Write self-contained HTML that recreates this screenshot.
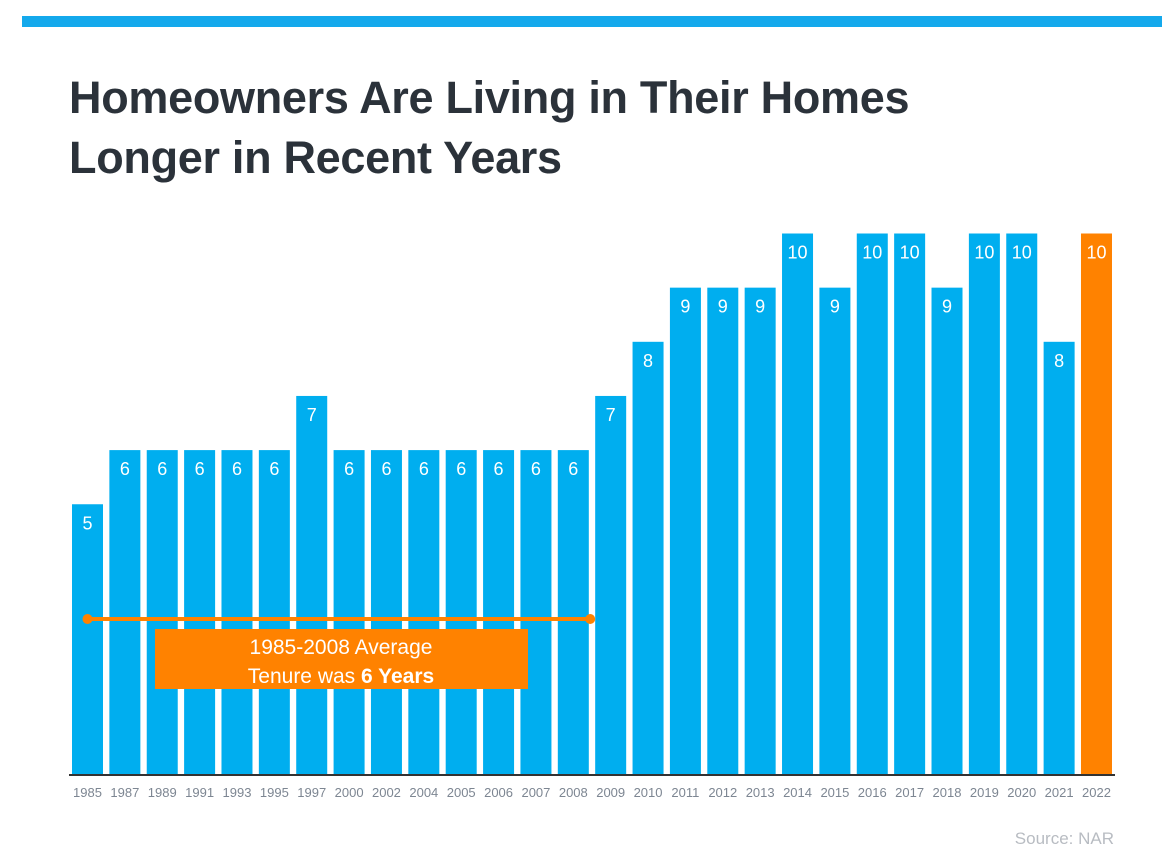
<!DOCTYPE html>
<html><head><meta charset="utf-8"><style>
body{margin:0;background:#fff;font-family:"Liberation Sans",sans-serif;}
#wrap{position:relative;width:1175px;height:856px;overflow:hidden;}
#topbar{position:absolute;left:22px;top:16px;width:1140px;height:11px;background:#14a9ec;}
#title{position:absolute;left:69px;top:68px;font-size:45px;font-weight:bold;color:#2b323a;line-height:60px;margin:0;letter-spacing:-0.3px;}
#source{position:absolute;right:61px;top:829px;font-size:17px;color:#b8bcc2;}
</style></head><body>
<div id="wrap">
<div id="topbar"></div>
<h1 id="title">Homeowners Are Living in Their Homes<br>Longer in Recent Years</h1>
<svg id="chart" width="1175" height="856" style="position:absolute;left:0;top:0"></svg>
<div id="source">Source: NAR</div>
</div>
<script>
const categories=["1985","1987","1989","1991","1993","1995","1997","2000","2002","2004","2005","2006","2007","2008","2009","2010","2011","2012","2013","2014","2015","2016","2017","2018","2019","2020","2021","2022"];
const values=[5,6,6,6,6,6,7,6,6,6,6,6,6,6,7,8,9,9,9,10,9,10,10,9,10,10,8,10];
const averageValue=6;
const averageStart="1985", averageEnd="2009";
const NS="http://www.w3.org/2000/svg";
const svg=document.getElementById('chart');
const x0=72,pitch=37.37,bw=31,base=775,unit=54.15;
const xPos=i=>x0+i*pitch;
const yPos=v=>base-v*unit;
function mk(t,a){const e=document.createElementNS(NS,t);for(const k in a)e.setAttribute(k,a[k]);svg.appendChild(e);return e;}
categories.forEach((c,i)=>{
  const v=values[i];
  const r=mk('rect',{x:xPos(i),y:yPos(v),width:bw,height:base-yPos(v),fill:i===categories.length-1?'#ff8200':'#00aeef'});
  
  
  const t=mk('text',{x:xPos(i)+bw/2,y:yPos(v)+25,'text-anchor':'middle','font-size':18,fill:'#fff','font-family':'Liberation Sans'});
  t.textContent=v;
  
  
  const l=mk('text',{x:xPos(i)+bw/2,y:797,'text-anchor':'middle','font-size':13,fill:'#7d8692','font-family':'Liberation Sans'});
  l.textContent=c;
  
  
});
const ax=mk('line',{x1:69,x2:1115,y1:base,y2:base,stroke:'#333',"stroke-width":2});


// average line: from center of first bar to left edge area of 2009 bar
const ay=yPos(averageValue)+156; // visual line drawn in lower area as in reference
const xs=xPos(categories.indexOf(averageStart))+bw/2, xe=xPos(categories.indexOf(averageEnd))-5;
const al=mk('line',{x1:xs,x2:xe,y1:619,y2:619,stroke:'#ff8200','stroke-width':4});


[xs,xe].forEach((x,k)=>{const d=mk('circle',{cx:x,cy:619,r:5,fill:'#ff8200'});

});
const box=mk('rect',{x:155,y:629,width:373,height:60,fill:'#ff8200'});


const t1=mk('text',{x:341,y:654,'text-anchor':'middle','font-size':21,fill:'#fff','font-family':'Liberation Sans'});
t1.textContent='1985-2008 Average';


const t2=mk('text',{x:341,y:683,'text-anchor':'middle','font-size':21,fill:'#fff','font-family':'Liberation Sans'});
t2.innerHTML='Tenure was <tspan font-weight="bold">'+averageValue+' Years</tspan>';


</script>
</body></html>
